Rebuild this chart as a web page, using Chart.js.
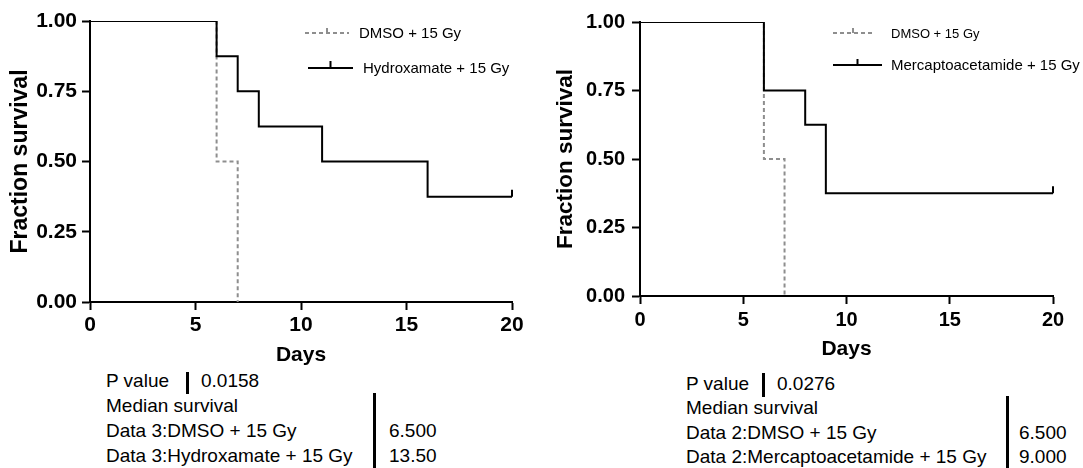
<!DOCTYPE html>
<html lang="en">
<head>
<meta charset="UTF-8">
<title>Survival - DMSO vs HDAC inhibitors + 15 Gy</title>
<style>
    body {
        margin: 0;
        padding: 0;
        background: #fff;
        width: 1083px;
        height: 468px;
        overflow: hidden;
        position: relative;
        font-family: 'Liberation Sans', Arial, Helvetica, sans-serif;
    }
    canvas {
        position: absolute;
        top: 0;
    }
    #leftChart { left: 0; }
    #rightChart { left: 540px; }
    .t {
        position: absolute;
        font-size: 19px;
        line-height: 22px;
        white-space: nowrap;
        color: #000;
    }
    .bar {
        position: absolute;
        width: 3px;
        background: #000;
    }
</style>
</head>
<body>
<canvas id="leftChart" width="540" height="370"></canvas>
<canvas id="rightChart" width="543" height="370"></canvas>

<!-- left stats -->
<div class="t" style="left:106px; top:370px">P value</div>
<div class="bar" style="left:186px; top:372px; height:22px"></div>
<div class="t" id="pLeft" style="left:201px; top:370px"></div>
<div class="t" style="left:106px; top:395px">Median survival</div>
<div class="bar" style="left:373px; top:393px; height:75px"></div>
<div class="t" id="nameLeft0" style="left:106px; top:420px"></div>
<div class="t" id="medLeft0" style="left:389px; top:420px"></div>
<div class="t" id="nameLeft1" style="left:106px; top:445px"></div>
<div class="t" id="medLeft1" style="left:389px; top:445px"></div>

<!-- right stats -->
<div class="t" style="left:686px; top:373px">P value</div>
<div class="bar" style="left:762px; top:373px; height:24px"></div>
<div class="t" id="pRight" style="left:777px; top:373px"></div>
<div class="t" style="left:686px; top:397px">Median survival</div>
<div class="bar" style="left:1006px; top:396px; height:72px"></div>
<div class="t" id="nameRight0" style="left:686px; top:422px"></div>
<div class="t" id="medRight0" style="left:1019px; top:422px"></div>
<div class="t" id="nameRight1" style="left:686px; top:446px"></div>
<div class="t" id="medRight1" style="left:1019px; top:446px"></div>

<script src="https://cdn.jsdelivr.net/npm/chart.js"></script>
<script>
    // Kaplan-Meier steps (day of event, survival after it)
    const dmsoDays = [0, 6, 7];
    const dmsoSurv = [1, 0.5, 0];
    const hydroxDays = [0, 6, 7, 8, 11, 16, 20];
    const hydroxSurv = [1, 0.875, 0.75, 0.625, 0.5, 0.375, 0.375];
    const mercaptoDays = [0, 6, 8, 9, 20];
    const mercaptoSurv = [1, 0.75, 0.625, 0.375, 0.375];

    // censored animals (tick marks)
    const hydroxCensorDays = [20];
    const hydroxCensorSurv = [0.375];
    const mercaptoCensorDays = [20];
    const mercaptoCensorSurv = [0.375];

    const xTicks = [0, 5, 10, 15, 20];
    const yTicks = [0, 0.25, 0.5, 0.75, 1];

    // stats under each plot
    const pValues = ['0.0158', '0.0276'];
    const leftNames = ['Data 3:DMSO + 15 Gy', 'Data 3:Hydroxamate + 15 Gy'];
    const leftMedians = [6.5, 13.5];
    const rightNames = ['Data 2:DMSO + 15 Gy', 'Data 2:Mercaptoacetamide + 15 Gy'];
    const rightMedians = [6.5, 9.0];

    Chart.defaults.font.family = "'Liberation Sans', Arial, Helvetica, sans-serif";
    Chart.defaults.color = '#000';

    function toPoints(xs, ys) {
        return xs.map((x, i) => ({ x: x, y: ys[i] }));
    }

    // draws the little vertical censor ticks
    const censorPlugin = {
        id: 'censorTicks',
        afterDatasetsDraw(chart) {
            const ctx = chart.ctx;
            const xs = chart.scales.x;
            const ys = chart.scales.y;
            chart.data.datasets.forEach(ds => {
                if (!ds.censored) return;
                ctx.save();
                ctx.strokeStyle = ds.borderColor;
                ctx.lineWidth = ds.borderWidth;
                ds.censored.forEach(p => {
                    const px = xs.getPixelForValue(p.x);
                    const py = ys.getPixelForValue(p.y);
                    ctx.beginPath();
                    ctx.moveTo(px, py);
                    ctx.lineTo(px, py - 7);
                    ctx.stroke();
                });
                ctx.restore();
            });
        }
    };

    // legend with the "line + tick" marker
    const legendPlugin = {
        id: 'kmLegend',
        afterDraw(chart, args, opts) {
            const ctx = chart.ctx;
            opts.items.forEach(it => {
                const ds = chart.data.datasets[it.dataset];
                ctx.save();
                ctx.strokeStyle = ds.borderColor;
                ctx.lineWidth = ds.borderWidth;
                ctx.setLineDash(ds.borderDash || []);
                ctx.beginPath();
                ctx.moveTo(it.x, it.y);
                ctx.lineTo(it.x + it.w, it.y);
                ctx.stroke();
                ctx.setLineDash([]);
                ctx.beginPath();
                ctx.moveTo(it.x + it.w / 2, it.y);
                ctx.lineTo(it.x + it.w / 2, it.y - it.tick);
                ctx.stroke();
                ctx.fillStyle = '#000';
                ctx.font = it.size + "px 'Liberation Sans', Arial, sans-serif";
                ctx.textBaseline = 'middle';
                ctx.fillText(ds.label, it.textX, it.y + 1);
                ctx.restore();
            });
        }
    };

    function makeChart(id, drugLabel, drugPts, censorPts, lay) {
        const ctx = document.getElementById(id).getContext('2d');
        return new Chart(ctx, {
            type: 'line',
            data: {
                datasets: [{
                    label: 'DMSO + 15 Gy',
                    data: toPoints(dmsoDays, dmsoSurv),
                    borderColor: '#8e8e8e',
                    borderWidth: 2,
                    borderDash: [4, 3],
                    stepped: true,
                    pointRadius: 0,
                    fill: false,
                    order: 1
                }, {
                    label: drugLabel,
                    data: drugPts,
                    censored: censorPts,
                    borderColor: '#000',
                    borderWidth: 2,
                    stepped: true,
                    pointRadius: 0,
                    fill: false,
                    order: 0
                }]
            },
            options: {
                responsive: false,
                animation: false,
                layout: {
                    padding: { left: 0, top: lay.top, right: lay.right, bottom: 0 }
                },
                plugins: {
                    legend: { display: false },
                    tooltip: { enabled: false },
                    kmLegend: { items: lay.legend }
                },
                scales: {
                    x: {
                        type: 'linear',
                        min: 0,
                        max: 20,
                        afterBuildTicks: s => { s.ticks = xTicks.map(v => ({ value: v })); },
                        afterFit: s => { s.height = lay.xHeight; },
                        grid: {
                            drawOnChartArea: false,
                            tickLength: 8,
                            tickWidth: 2,
                            tickColor: '#000'
                        },
                        border: { color: '#000', width: 2 },
                        ticks: {
                            padding: lay.xPad,
                            maxRotation: 0,
                            font: { size: lay.tickSize, weight: 'bold' },
                            callback: v => v
                        },
                        title: {
                            display: true,
                            text: 'Days',
                            padding: { top: 0, bottom: lay.xTitlePad },
                            font: { size: 21, weight: 'bold' }
                        }
                    },
                    y: {
                        min: 0,
                        max: 1,
                        afterBuildTicks: s => { s.ticks = yTicks.map(v => ({ value: v })); },
                        afterFit: s => { s.width = lay.yWidth; },
                        grid: {
                            drawOnChartArea: false,
                            tickLength: 8,
                            tickWidth: 2,
                            tickColor: '#000'
                        },
                        border: { color: '#000', width: 2 },
                        ticks: {
                            padding: lay.yPad,
                            font: { size: lay.tickSize, weight: 'bold' },
                            callback: v => v.toFixed(2)
                        },
                        title: {
                            display: true,
                            text: 'Fraction survival',
                            padding: { top: lay.yTitlePad, bottom: 0 },
                            font: { size: lay.yTitleSize, weight: 'bold' }
                        }
                    }
                }
            },
            plugins: [censorPlugin, legendPlugin]
        });
    }

    makeChart('leftChart', 'Hydroxamate + 15 Gy',
        toPoints(hydroxDays, hydroxSurv),
        toPoints(hydroxCensorDays, hydroxCensorSurv), {
            top: 21, right: 28, yWidth: 90, xHeight: 68,
            xPad: 3, yPad: 5, tickSize: 21,
            xTitlePad: 2, yTitlePad: 6.5, yTitleSize: 23,
            legend: [
                { dataset: 0, x: 305, w: 44, y: 33, tick: 5, textX: 359, size: 15 },
                { dataset: 1, x: 308, w: 45, y: 68, tick: 7, textX: 363, size: 15 }
            ]
        });

    makeChart('rightChart', 'Mercaptoacetamide + 15 Gy',
        toPoints(mercaptoDays, mercaptoSurv),
        toPoints(mercaptoCensorDays, mercaptoCensorSurv), {
            top: 22, right: 30, yWidth: 100, xHeight: 74,
            xPad: 4, yPad: 7, tickSize: 20,
            xTitlePad: 8, yTitlePad: 12.5, yTitleSize: 22.5,
            legend: [
                { dataset: 0, x: 293, w: 40, y: 33, tick: 5, textX: 351, size: 13 },
                { dataset: 1, x: 293, w: 49, y: 65, tick: 6, textX: 351, size: 15 }
            ]
        });

    // stats text
    const fmt = v => v.toPrecision(4);
    document.getElementById('pLeft').textContent = pValues[0];
    document.getElementById('pRight').textContent = pValues[1];
    leftNames.forEach((n, i) => {
        document.getElementById('nameLeft' + i).textContent = n;
        document.getElementById('medLeft' + i).textContent = fmt(leftMedians[i]);
    });
    rightNames.forEach((n, i) => {
        document.getElementById('nameRight' + i).textContent = n;
        document.getElementById('medRight' + i).textContent = fmt(rightMedians[i]);
    });
</script>
</body>
</html>
